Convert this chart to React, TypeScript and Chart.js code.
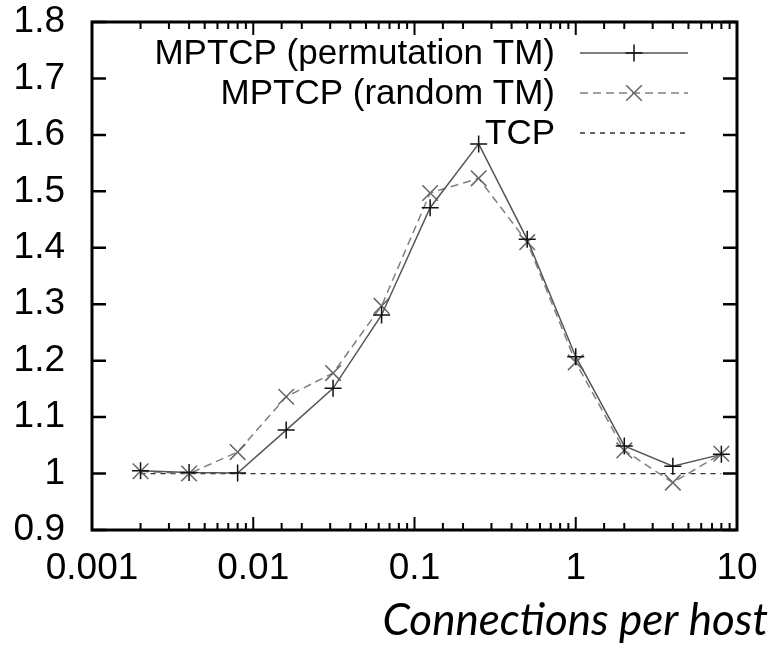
import React, { useEffect, useRef } from "react";
import { Chart, registerables } from "chart.js";

Chart.register(...registerables);

// ---- data ----
const connectionsPerHost = [0.002, 0.004, 0.008, 0.016, 0.03125, 0.0625, 0.125, 0.25, 0.5, 1, 2, 4, 8];
const permutationTM = [1.005, 1.002, 1.001, 1.077, 1.151, 1.281, 1.471, 1.584, 1.415, 1.207, 1.049, 1.013, 1.034];
const randomTM = [1.004, 1.0, 1.038, 1.136, 1.178, 1.297, 1.497, 1.523, 1.41, 1.197, 1.041, 0.984, 1.035];
const tcp = [1, 1, 1, 1, 1, 1, 1, 1, 1, 1, 1, 1, 1];
const seriesNames = ["MPTCP (permutation TM)", "MPTCP (random TM)", "TCP"];
const xTickValues = [0.001, 0.01, 0.1, 1, 10];
const xTickLabels = ["0.001", "0.01", "0.1", "1", "10"];
const yTickValues = [0.9, 1.0, 1.1, 1.2, 1.3, 1.4, 1.5, 1.6, 1.7, 1.8];
const yTickLabels = ["0.9", "1", "1.1", "1.2", "1.3", "1.4", "1.5", "1.6", "1.7", "1.8"];
const xTitle = "Connections per host";

const TICK_FONT = { family: "'Liberation Sans', Arial, sans-serif", size: 37 };

function toPoints(ys: number[]) {
  return connectionsPerHost.map((x, i) => ({ x, y: ys[i] }));
}

function drawMarker(ctx: CanvasRenderingContext2D, style: string, x: number, y: number, r: number) {
  ctx.beginPath();
  if (style === "cross") {
    ctx.moveTo(x - r, y);
    ctx.lineTo(x + r, y);
    ctx.moveTo(x, y - r);
    ctx.lineTo(x, y + r);
  } else if (style === "crossRot") {
    const o = r * Math.SQRT1_2;
    ctx.moveTo(x - o, y - o);
    ctx.lineTo(x + o, y + o);
    ctx.moveTo(x - o, y + o);
    ctx.lineTo(x + o, y - o);
  }
  ctx.stroke();
}

const framePlugin = {
  id: "gnuplotFrame",
  afterDatasetsDraw(chart: any) {
    const { ctx, chartArea } = chart;
    const { left, right, top, bottom } = chartArea;
    const xs = chart.scales.x;
    const ys = chart.scales.y;
    ctx.save();
    ctx.strokeStyle = "#000";
    ctx.lineWidth = 3;
    ctx.setLineDash([]);
    ctx.strokeRect(left, top, right - left, bottom - top);
    // x ticks (inward, bottom and top)
    ctx.lineWidth = 2;
    for (const t of xs.ticks) {
      const v = t.value;
      const px = xs.getPixelForValue(v);
      if (px < left - 0.5 || px > right + 0.5) continue;
      const lg = Math.log10(v);
      const major = Math.abs(lg - Math.round(lg)) < 1e-6;
      const len = major ? 13 : 7;
      ctx.beginPath();
      ctx.moveTo(px, bottom);
      ctx.lineTo(px, bottom - len);
      ctx.moveTo(px, top);
      ctx.lineTo(px, top + len);
      ctx.stroke();
    }
    // y ticks (inward, left and right)
    ctx.lineWidth = 2.5;
    for (const v of yTickValues) {
      const py = ys.getPixelForValue(v);
      ctx.beginPath();
      ctx.moveTo(left, py);
      ctx.lineTo(left + 14, py);
      ctx.moveTo(right, py);
      ctx.lineTo(right - 14, py);
      ctx.stroke();
    }

    // legend (top-right, text right-aligned, sample to the right)
    ctx.font = "35px 'Liberation Sans', Arial, sans-serif";
    ctx.textAlign = "right";
    ctx.textBaseline = "middle";
    chart.data.datasets.forEach((ds: any, i: number) => {
      const y = top + 31 + i * 40;
      ctx.fillStyle = "#000";
      ctx.fillText(ds.label, right - 182, y + 1);
      const x1 = right - 157;
      const x2 = right - 49;
      ctx.strokeStyle = ds.borderColor;
      ctx.lineWidth = ds.borderWidth;
      ctx.setLineDash(ds.borderDash || []);
      ctx.beginPath();
      ctx.moveTo(x1, y);
      ctx.lineTo(x2, y);
      ctx.stroke();
      ctx.setLineDash([]);
      if (ds.pointRadius > 0) {
        ctx.strokeStyle = ds.pointBorderColor;
        ctx.lineWidth = ds.pointBorderWidth;
        drawMarker(ctx, ds.pointStyle, (x1 + x2) / 2, y, ds.pointRadius);
      }
    });

    // x axis title (bottom right, italic)
    ctx.font = "italic 44px Lato, 'Open Sans', sans-serif";
    ctx.textAlign = "right";
    ctx.textBaseline = "alphabetic";
    ctx.fillStyle = "#000";
    ctx.fillText(xTitle, chart.width - 8, 635);
    ctx.restore();
  },
};

export default function App() {
  const canvasRef = useRef<HTMLCanvasElement | null>(null);

  useEffect(() => {
    const canvas = canvasRef.current;
    if (!canvas) return;
    const chart = new Chart(canvas, {
      type: "line",
      data: {
        datasets: [
          {
            label: seriesNames[0],
            data: toPoints(permutationTM),
            borderColor: "#555555",
            borderWidth: 1.5,
            pointStyle: "cross",
            pointRadius: 8.5,
            pointBorderColor: "#111111",
            pointBorderWidth: 1.5,
            pointBackgroundColor: "rgba(0,0,0,0)",
            fill: false,
            tension: 0,
          },
          {
            label: seriesNames[1],
            data: toPoints(randomTM),
            borderColor: "#808080",
            borderWidth: 1.5,
            borderDash: [8, 5],
            pointStyle: "crossRot",
            pointRadius: 11,
            pointBorderColor: "#666666",
            pointBorderWidth: 1.5,
            pointBackgroundColor: "rgba(0,0,0,0)",
            fill: false,
            tension: 0,
          },
          {
            label: seriesNames[2],
            data: toPoints(tcp),
            borderColor: "#333333",
            borderWidth: 1.3,
            borderDash: [5, 5],
            pointRadius: 0,
            pointStyle: "line",
            pointBorderColor: "#333333",
            pointBorderWidth: 1,
            fill: false,
            tension: 0,
          },
        ],
      } as any,
      options: {
        animation: false,
        responsive: false,
        maintainAspectRatio: false,
        events: [],
        layout: { padding: { top: 22, right: 39, left: 0, bottom: 0 } },
        plugins: {
          legend: { display: false },
          tooltip: { enabled: false },
          title: { display: false },
        },
        scales: {
          x: {
            type: "logarithmic",
            min: 0.001,
            max: 10,
            grid: { display: false, drawTicks: false },
            border: { display: false },
            ticks: {
              autoSkip: false,
              minRotation: 0,
              maxRotation: 0,
              padding: 17,
              color: "#000",
              font: TICK_FONT,
              callback: (value: any) => {
                const v = Number(value);
                const idx = xTickValues.findIndex((t) => Math.abs(t - v) / t < 1e-6);
                return idx >= 0 ? xTickLabels[idx] : "";
              },
            },
            afterFit: (s: any) => {
              s.height = 118;
              s.paddingLeft = 0;
              s.paddingRight = 0;
            },
          },
          y: {
            type: "linear",
            min: 0.9,
            max: 1.8,
            grid: { display: false, drawTicks: false },
            border: { display: false },
            afterBuildTicks: (s: any) => {
              s.ticks = yTickValues.map((v) => ({ value: v }));
            },
            ticks: {
              padding: 27,
              color: "#000",
              font: TICK_FONT,
              callback: (value: any) => {
                const v = Number(value);
                const idx = yTickValues.findIndex((t) => Math.abs(t - v) < 1e-6);
                return idx >= 0 ? yTickLabels[idx] : "";
              },
            },
            afterFit: (s: any) => {
              s.width = 92;
              s.paddingTop = 0;
              s.paddingBottom = 0;
            },
          },
        },
      } as any,
      plugins: [framePlugin],
    });
    return () => chart.destroy();
  }, []);

  return (
    <div style={{ position: "absolute", left: 0, top: 0, width: 776, height: 648, background: "#fff" }}>
      <canvas ref={canvasRef} width={776} height={648} style={{ display: "block" }} />
    </div>
  );
}
